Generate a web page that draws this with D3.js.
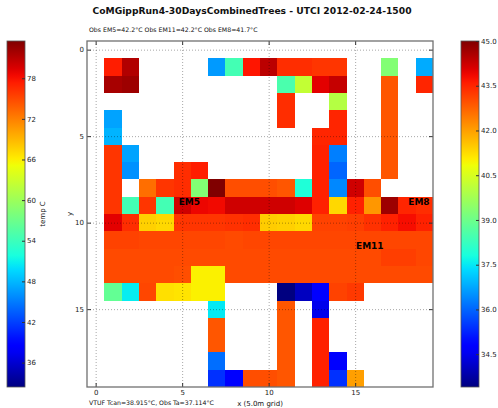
<!DOCTYPE html>
<html>
<head>
<meta charset="utf-8">
<script src="https://cdn.jsdelivr.net/npm/d3@7"></script>
<style>
  body { margin: 0; background: #fff; }
  svg text { font-family: "DejaVu Sans", sans-serif; fill: #111; }
</style>
</head>
<body>
<svg id="chart" width="498" height="408"></svg>
<script>
// ---- chart text ----
const title = "CoMGippRun4-30DaysCombinedTrees - UTCI 2012-02-24-1500";
const subtitle = "Obs EM5=42.2\u00b0C Obs EM11=42.2\u00b0C Obs EM8=41.7\u00b0C";
const footnote = "VTUF Tcan=38.915\u00b0C, Obs Ta=37.114\u00b0C";
const xLabel = "x (5.0m grid)";
const yLabel = "y";
const surfaceLabel = "temp C";

// ---- axis ticks and colour ranges ----
const xTicks = [0, 5, 10, 15];
const yTicks = [0, 5, 10, 15];
const utciRange = [33.4, 45.0];
const utciTicks = [34.5, 36.0, 37.5, 39.0, 40.5, 42.0, 43.5, 45.0];
const surfaceRange = [32.4, 83.5];
const surfaceTicks = [36, 42, 48, 54, 60, 66, 72, 78];

// ---- station markers (grid coordinates) ----
const stationNames = ["EM5", "EM8", "EM11"];
const stationCols = [4.8, 18.07, 15.05];
const stationRows = [8.86, 8.86, 11.35];

// ---- UTCI per grid cell (rows y = 0..19, columns x = 0..19), null = no data ----
const _ = null;
const utci = [
  [_, _, _, _, _, _, _, _, _, _, _, _, _, _, _, _, _, _, _, _],
  [_, 43.6, 44.5, _, _, _, _, 36.6, 38.4, 43.7, 44.4, 43.4, 43.4, 43.3, 43.3, _, _, 39.3, _, 36.8],
  [_, 44.6, 44.7, _, _, _, _, _, _, _, _, 38.5, 40.2, 44.0, 44.3, _, _, 42.9, _, 43.5],
  [_, _, _, _, _, _, _, _, _, _, _, 43.4, _, _, 40.0, _, _, 42.9, _, _],
  [_, 36.7, _, _, _, _, _, _, _, _, _, 43.4, _, _, 43.5, _, _, 42.9, _, _],
  [_, 36.9, _, _, _, _, _, _, _, _, _, _, _, 43.5, 43.5, _, _, 42.9, _, _],
  [_, 43.3, 36.7, _, _, _, _, _, _, _, _, _, _, 43.55, 36.3, _, _, 42.9, _, _],
  [_, 43.3, 36.5, _, _, 43.4, 43.6, _, _, _, _, _, _, 43.55, 36.0, _, _, 42.9, _, _],
  [_, 43.3, _, 42.6, 43.3, 43.4, 39.3, 45.0, 43.0, 43.0, 43.0, 42.9, 37.9, 43.55, 36.4, 44.2, 43.0, _, _, _],
  [_, 43.3, 38.4, 43.3, 38.4, 44.2, 43.9, 43.85, 44.2, 44.2, 44.2, 44.2, 44.05, 43.55, 41.3, 43.55, 42.1, 44.7, 43.5, 43.4],
  [_, 44.0, 43.4, 41.4, 41.3, 43.3, 43.3, 43.3, 43.35, 43.4, 41.45, 41.4, 41.3, 43.15, 43.15, 43.2, 43.35, 43.55, 43.8, 43.55],
  [_, 43.15, 43.15, 43.1, 43.1, 43.1, 43.1, 43.1, 43.05, 43.1, 43.1, 43.1, 43.1, 43.1, 43.1, 43.1, 43.1, 43.1, 43.1, 43.1],
  [_, 43.05, 43.05, 43.05, 43.05, 43.05, 43.05, 43.05, 43.05, 43.05, 43.05, 43.05, 43.05, 43.05, 43.05, 43.05, 43.05, 43.2, 43.2, 43.1],
  [_, 43.05, 43.05, 43.05, 43.05, 43.0, 41.0, 41.0, 43.05, 43.05, 43.05, 43.05, 43.05, 43.05, 43.05, 43.05, 43.05, 43.05, 43.05, 43.05],
  [_, 38.85, 37.55, 43.1, 41.2, 41.15, 41.0, 41.0, _, _, _, 33.4, 34.05, 34.77, 43.15, 43.25, _, _, _, _],
  [_, _, _, _, _, _, _, 37.5, _, _, _, 42.9, _, 34.5, _, _, _, _, _, _],
  [_, _, _, _, _, _, _, 42.9, _, _, _, 42.9, _, 43.55, _, _, _, _, _, _],
  [_, _, _, _, _, _, _, 42.9, _, _, _, 42.9, _, 43.55, _, _, _, _, _, _],
  [_, _, _, _, _, _, _, 36.1, _, _, _, 42.9, _, 43.55, 34.8, _, _, _, _, _],
  [_, _, _, _, _, _, _, 35.4, 34.8, 43.0, 43.0, 42.9, _, 43.55, 35.4, 42.0, _, _, _, _]
];

// ---- jet colour map (piecewise-linear segments) ----
const jetR = [[0, 0], [0.35, 0], [0.66, 1], [0.89, 1], [1, 0.5]];
const jetG = [[0, 0], [0.125, 0], [0.375, 1], [0.64, 1], [0.91, 0], [1, 0]];
const jetB = [[0, 0.5], [0.11, 1], [0.34, 1], [0.65, 0], [1, 0]];
function segment(pts, t) {
  for (let i = 1; i < pts.length; i++) {
    if (t <= pts[i][0]) {
      const [x0, y0] = pts[i - 1], [x1, y1] = pts[i];
      return y0 + (y1 - y0) * (t - x0) / (x1 - x0);
    }
  }
  return pts[pts.length - 1][1];
}
function jet(t) {
  t = Math.max(0, Math.min(1, t));
  return d3.rgb(255 * segment(jetR, t), 255 * segment(jetG, t), 255 * segment(jetB, t)).formatHex();
}

const svg = d3.select("#chart");

// ---- layout ----
const plot = { left: 87, right: 433, top: 41, bottom: 387 };
const x = d3.scaleLinear().domain([-0.5, 19.5]).range([plot.left, plot.right]);
const y = d3.scaleLinear().domain([-0.5, 19.5]).range([plot.top, plot.bottom]);
const utciNorm = d3.scaleLinear().domain(utciRange).range([0, 1]).clamp(true);

// ---- titles ----
svg.append("text").attr("x", 252).attr("y", 11).attr("text-anchor", "middle")
  .attr("dominant-baseline", "middle").style("font-size", "9.2px").style("font-weight", "bold")
  .text(title);
svg.append("text").attr("x", 89).attr("y", 30).attr("dominant-baseline", "middle")
  .style("font-size", "6.2px").text(subtitle);

// ---- grid cells ----
const cells = [];
utci.forEach((row, r) => row.forEach((v, c) => { if (v !== null) cells.push({ r, c, v }); }));
svg.append("g").selectAll("rect").data(cells).join("rect")
  .attr("x", d => x(d.c - 0.5))
  .attr("y", d => y(d.r - 0.5))
  .attr("width", d => x(d.c + 0.5) - x(d.c - 0.5))
  .attr("height", d => y(d.r + 0.5) - y(d.r - 0.5))
  .attr("fill", d => jet(utciNorm(d.v)))
  .attr("shape-rendering", "crispEdges");

// ---- dotted grid lines ----
const grid = svg.append("g").attr("stroke", "#000").attr("stroke-opacity", 0.35)
  .attr("stroke-width", 1).attr("stroke-dasharray", "1,2");
grid.selectAll(".gx").data(xTicks).join("line")
  .attr("x1", d => x(d) + 0.5).attr("x2", d => x(d) + 0.5)
  .attr("y1", plot.top).attr("y2", plot.bottom);
grid.selectAll(".gy").data(yTicks).join("line")
  .attr("y1", d => y(d) + 0.5).attr("y2", d => y(d) + 0.5)
  .attr("x1", plot.left).attr("x2", plot.right);

// ---- station labels ----
svg.append("g").selectAll("text").data(stationNames).join("text")
  .attr("x", (d, i) => x(stationCols[i]))
  .attr("y", (d, i) => y(stationRows[i]))
  .attr("dominant-baseline", "middle")
  .style("font-size", "9px").style("font-weight", "bold").style("fill", "#000")
  .text(d => d);

// ---- axes ----
function styleAxis(g) {
  g.select(".domain").remove();
  g.selectAll(".tick line").attr("stroke", "#333");
  g.selectAll(".tick text").style("font-size", "7px").style("fill", "#222");
}
svg.append("g").attr("transform", `translate(0,${plot.bottom})`)
  .call(d3.axisBottom(x).tickValues(xTicks).tickSize(-4).tickPadding(3)).call(styleAxis);
svg.append("g").attr("transform", `translate(0,${plot.top})`)
  .call(d3.axisTop(x).tickValues(xTicks).tickSize(-4).tickFormat("")).call(styleAxis);
svg.append("g").attr("transform", `translate(${plot.left},0)`)
  .call(d3.axisLeft(y).tickValues(yTicks).tickSize(-4).tickPadding(3)).call(styleAxis);
svg.append("g").attr("transform", `translate(${plot.right},0)`)
  .call(d3.axisRight(y).tickValues(yTicks).tickSize(-4).tickFormat("")).call(styleAxis);

svg.append("rect").attr("x", plot.left).attr("y", plot.top)
  .attr("width", plot.right - plot.left).attr("height", plot.bottom - plot.top)
  .attr("fill", "none").attr("stroke", "#707070").attr("stroke-width", 1.3);

svg.append("text").attr("x", (plot.left + plot.right) / 2).attr("y", 404)
  .attr("text-anchor", "middle").attr("dominant-baseline", "middle")
  .style("font-size", "7px").text(xLabel);
svg.append("text").attr("transform", `translate(70,${(plot.top + plot.bottom) / 2}) rotate(-90)`)
  .attr("text-anchor", "middle").attr("dominant-baseline", "middle")
  .style("font-size", "7px").text(yLabel);
svg.append("text").attr("x", 89).attr("y", 403).attr("dominant-baseline", "middle")
  .style("font-size", "6.2px").text(footnote);

// ---- colour bars ----
const defs = svg.append("defs");
const grad = defs.append("linearGradient").attr("id", "jetGrad")
  .attr("x1", 0).attr("y1", 1).attr("x2", 0).attr("y2", 0);
grad.selectAll("stop").data(d3.range(0, 1.0001, 0.02)).join("stop")
  .attr("offset", d => d).attr("stop-color", d => jet(d));

function colorBar(left, range, ticks, fmt) {
  const w = 18;
  const s = d3.scaleLinear().domain(range).range([plot.bottom, plot.top]);
  svg.append("rect").attr("x", left).attr("y", plot.top).attr("width", w)
    .attr("height", plot.bottom - plot.top).attr("fill", "url(#jetGrad)")
    .attr("stroke", "#555").attr("stroke-width", 0.8);
  svg.append("g").attr("transform", `translate(${left + w},0)`)
    .call(d3.axisRight(s).tickValues(ticks).tickSize(-3).tickPadding(2).tickFormat(fmt))
    .call(styleAxis);
  return s;
}
colorBar(7, surfaceRange, surfaceTicks, d3.format("d"));
colorBar(461, utciRange, utciTicks, d3.format(".1f"));

svg.append("text").attr("transform", `translate(43,${(plot.top + plot.bottom) / 2}) rotate(-90)`)
  .attr("text-anchor", "middle").attr("dominant-baseline", "middle")
  .style("font-size", "7px").text(surfaceLabel);
</script>
</body>
</html>
